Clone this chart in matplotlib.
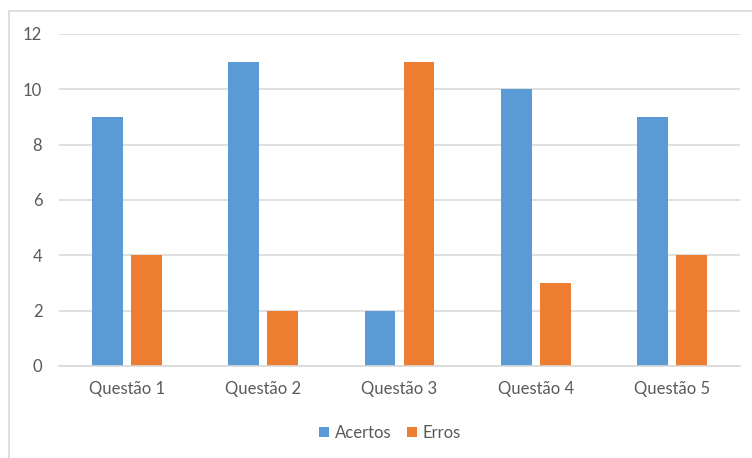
import matplotlib
matplotlib.use("Agg")
import matplotlib.pyplot as plt
from matplotlib.patches import Rectangle
import numpy as np

categories = ["Questão 1", "Questão 2", "Questão 3", "Questão 4", "Questão 5"]
acertos = [9, 11, 2, 10, 9]
erros = [4, 2, 11, 3, 4]
yticks = [0, 2, 4, 6, 8, 10, 12]

BLUE = "#5B9BD5"
ORANGE = "#ED7D31"
TEXT = "#595959"
GRID = "#D9D9D9"

plt.rcParams["font.family"] = ["Lato", "DejaVu Sans"]

fig = plt.figure(figsize=(7.52, 4.58), dpi=100)
fig.patch.set_facecolor("white")

# chart frame
fig.patches.append(Rectangle((9 / 752, -0.1), 1.2, 1 - 11 / 458 + 0.1,
                             transform=fig.transFigure, fill=False,
                             edgecolor=GRID, linewidth=1.2))

ax = fig.add_axes([59 / 752, 1 - 366 / 458, (740 - 59) / 752, (366 - 34) / 458])
x = np.arange(len(categories))
w = 0.227
off = 0.143
ax.bar(x - off, acertos, w, color=BLUE, label="Acertos", zorder=3)
ax.bar(x + off, erros, w, color=ORANGE, label="Erros", zorder=3)

ax.set_xlim(-0.5, len(categories) - 0.5)
ax.set_ylim(0, 12)
ax.set_yticks(yticks)
ax.set_xticks(x)
ax.set_xticklabels(categories)
ax.tick_params(axis="both", length=0, labelsize=12, colors=TEXT)
ax.tick_params(axis="x", pad=11)
ax.tick_params(axis="y", pad=12)
ax.grid(axis="y", color=GRID, linewidth=1.2, zorder=0)
for s in ["top", "right", "left"]:
    ax.spines[s].set_visible(False)
ax.spines["bottom"].set_color(GRID)
ax.spines["bottom"].set_linewidth(1.2)
ax.spines["bottom"].set_zorder(4)

leg = fig.legend(loc="center", bbox_to_anchor=(390 / 752, 1 - 433 / 458),
                 ncol=2, frameon=False, fontsize=12, handlelength=0.6,
                 handleheight=0.6, handletextpad=0.35, columnspacing=0.95)
for t in leg.get_texts():
    t.set_color(TEXT)

fig.savefig("out.png", dpi=100, facecolor="white")
